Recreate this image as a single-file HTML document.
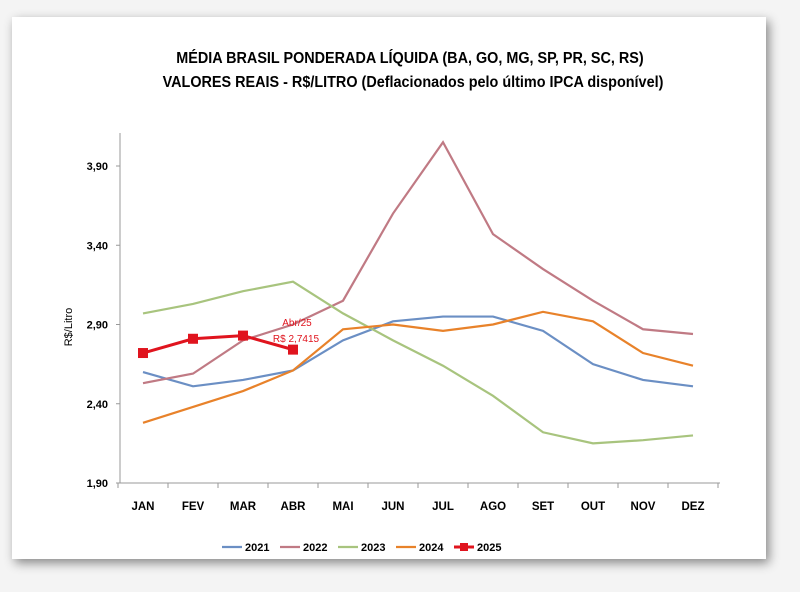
<!DOCTYPE html>
<html><head><meta charset="utf-8"><style>
body{margin:0;width:800px;height:592px;background:#f4f4f4;font-family:"Liberation Sans",sans-serif;overflow:hidden}
#card{position:absolute;left:12px;top:17px;width:754px;height:542px;background:#fff;box-shadow:3px 4px 10px rgba(0,0,0,0.45)}
</style></head><body>
<div id="card"></div>
<svg id="chart" width="800" height="592" style="position:absolute;left:0;top:0">
<text x="410" y="63" text-anchor="middle" font-size="16" font-weight="bold" transform="scale(0.9,1)" style="transform-origin:410px 0">MÉDIA BRASIL PONDERADA LÍQUIDA (BA, GO, MG, SP, PR, SC, RS)</text>
<text x="413" y="87" text-anchor="middle" font-size="16" font-weight="bold" transform="scale(0.9,1)" style="transform-origin:413px 0">VALORES REAIS - R$/LITRO (Deflacionados  pelo último IPCA disponível)</text>
<text x="72" y="327" text-anchor="middle" font-size="11" transform="rotate(-90 72 327)">R$/Litro</text>
<g id="axes"></g><g id="series"></g><g id="legend"></g>
</svg>
<script>
const months=["JAN","FEV","MAR","ABR","MAI","JUN","JUL","AGO","SET","OUT","NOV","DEZ"];
const yTicks=[1.90,2.40,2.90,3.40,3.90];
const s2021=[2.60,2.51,2.55,2.61,2.80,2.92,2.95,2.95,2.86,2.65,2.55,2.51];
const s2022=[2.53,2.59,2.80,2.90,3.05,3.60,4.05,3.47,3.25,3.05,2.87,2.84];
const s2023=[2.97,3.03,3.11,3.17,2.97,2.80,2.64,2.45,2.22,2.15,2.17,2.20];
const s2024=[2.28,2.38,2.48,2.61,2.87,2.90,2.86,2.90,2.98,2.92,2.72,2.64];
const s2025=[2.72,2.81,2.83,2.7415];
const seriesNames=["2021","2022","2023","2024","2025"];
const NS="http://www.w3.org/2000/svg";
const X=i=>143+i*50;
const Y=v=>483-(v-1.9)*158.5;
function mk(tag,attrs,parent){const e=document.createElementNS(NS,tag);for(const k in attrs)e.setAttribute(k,attrs[k]);parent.appendChild(e);return e;}
const ax=document.getElementById('axes');
let l=mk('line',{x1:120,y1:133,x2:120,y2:483,stroke:'#999','stroke-width':1},ax);


l=mk('line',{x1:120,y1:483,x2:720,y2:483,stroke:'#999','stroke-width':1},ax);


yTicks.forEach(v=>{const t=mk('text',{x:108,y:Y(v)+4,'text-anchor':'end','font-size':11,'font-weight':'bold'},ax);t.textContent=v.toFixed(2).replace('.',',');


mk('line',{x1:116,y1:Y(v),x2:120,y2:Y(v),stroke:'#999'},ax);});
for(let i=0;i<=12;i++){mk('line',{x1:118+i*50,y1:483,x2:118+i*50,y2:488,stroke:'#999'},ax);}
months.forEach((m,i)=>{const t=mk('text',{x:X(i),y:510,'text-anchor':'middle','font-size':11.5,'font-weight':'bold'},ax);t.textContent=m;

});
const sg=document.getElementById('series');
const cols=["#6b8fc4","#c07a84","#a8c47e","#e8822a","#e0141e"];
[s2021,s2022,s2023,s2024,s2025].forEach((d,k)=>{
 const p=mk('polyline',{points:d.map((v,i)=>X(i)+','+Y(v)).join(' '),fill:'none',stroke:cols[k],'stroke-width':k==4?3:2.2},sg);
 
 
 if(k==4)d.forEach((v,i)=>{const r=mk('rect',{x:X(i)-5,y:Y(v)-5,width:10,height:10,fill:cols[4]},sg);
 
 });
});
let a=mk('text',{x:297,y:326,'text-anchor':'middle','font-size':10,fill:'#e0141e'},sg);a.textContent='Abr/25';


a=mk('text',{x:296,y:342,'text-anchor':'middle','font-size':10,fill:'#e0141e'},sg);a.textContent='R$ 2,7415';


const lg=document.getElementById('legend');
seriesNames.forEach((n,k)=>{const x0=222+k*58;
 const g=mk('g',{},lg);
 
 
 mk('line',{x1:x0,y1:547,x2:x0+20,y2:547,stroke:cols[k],'stroke-width':k==4?3:2.2},g);
 if(k==4)mk('rect',{x:x0+6,y:543,width:8,height:8,fill:cols[4]},g);
 const t=mk('text',{x:x0+23,y:551,'font-size':11,'font-weight':'bold'},g);t.textContent=n;});
</script>
</body></html>
